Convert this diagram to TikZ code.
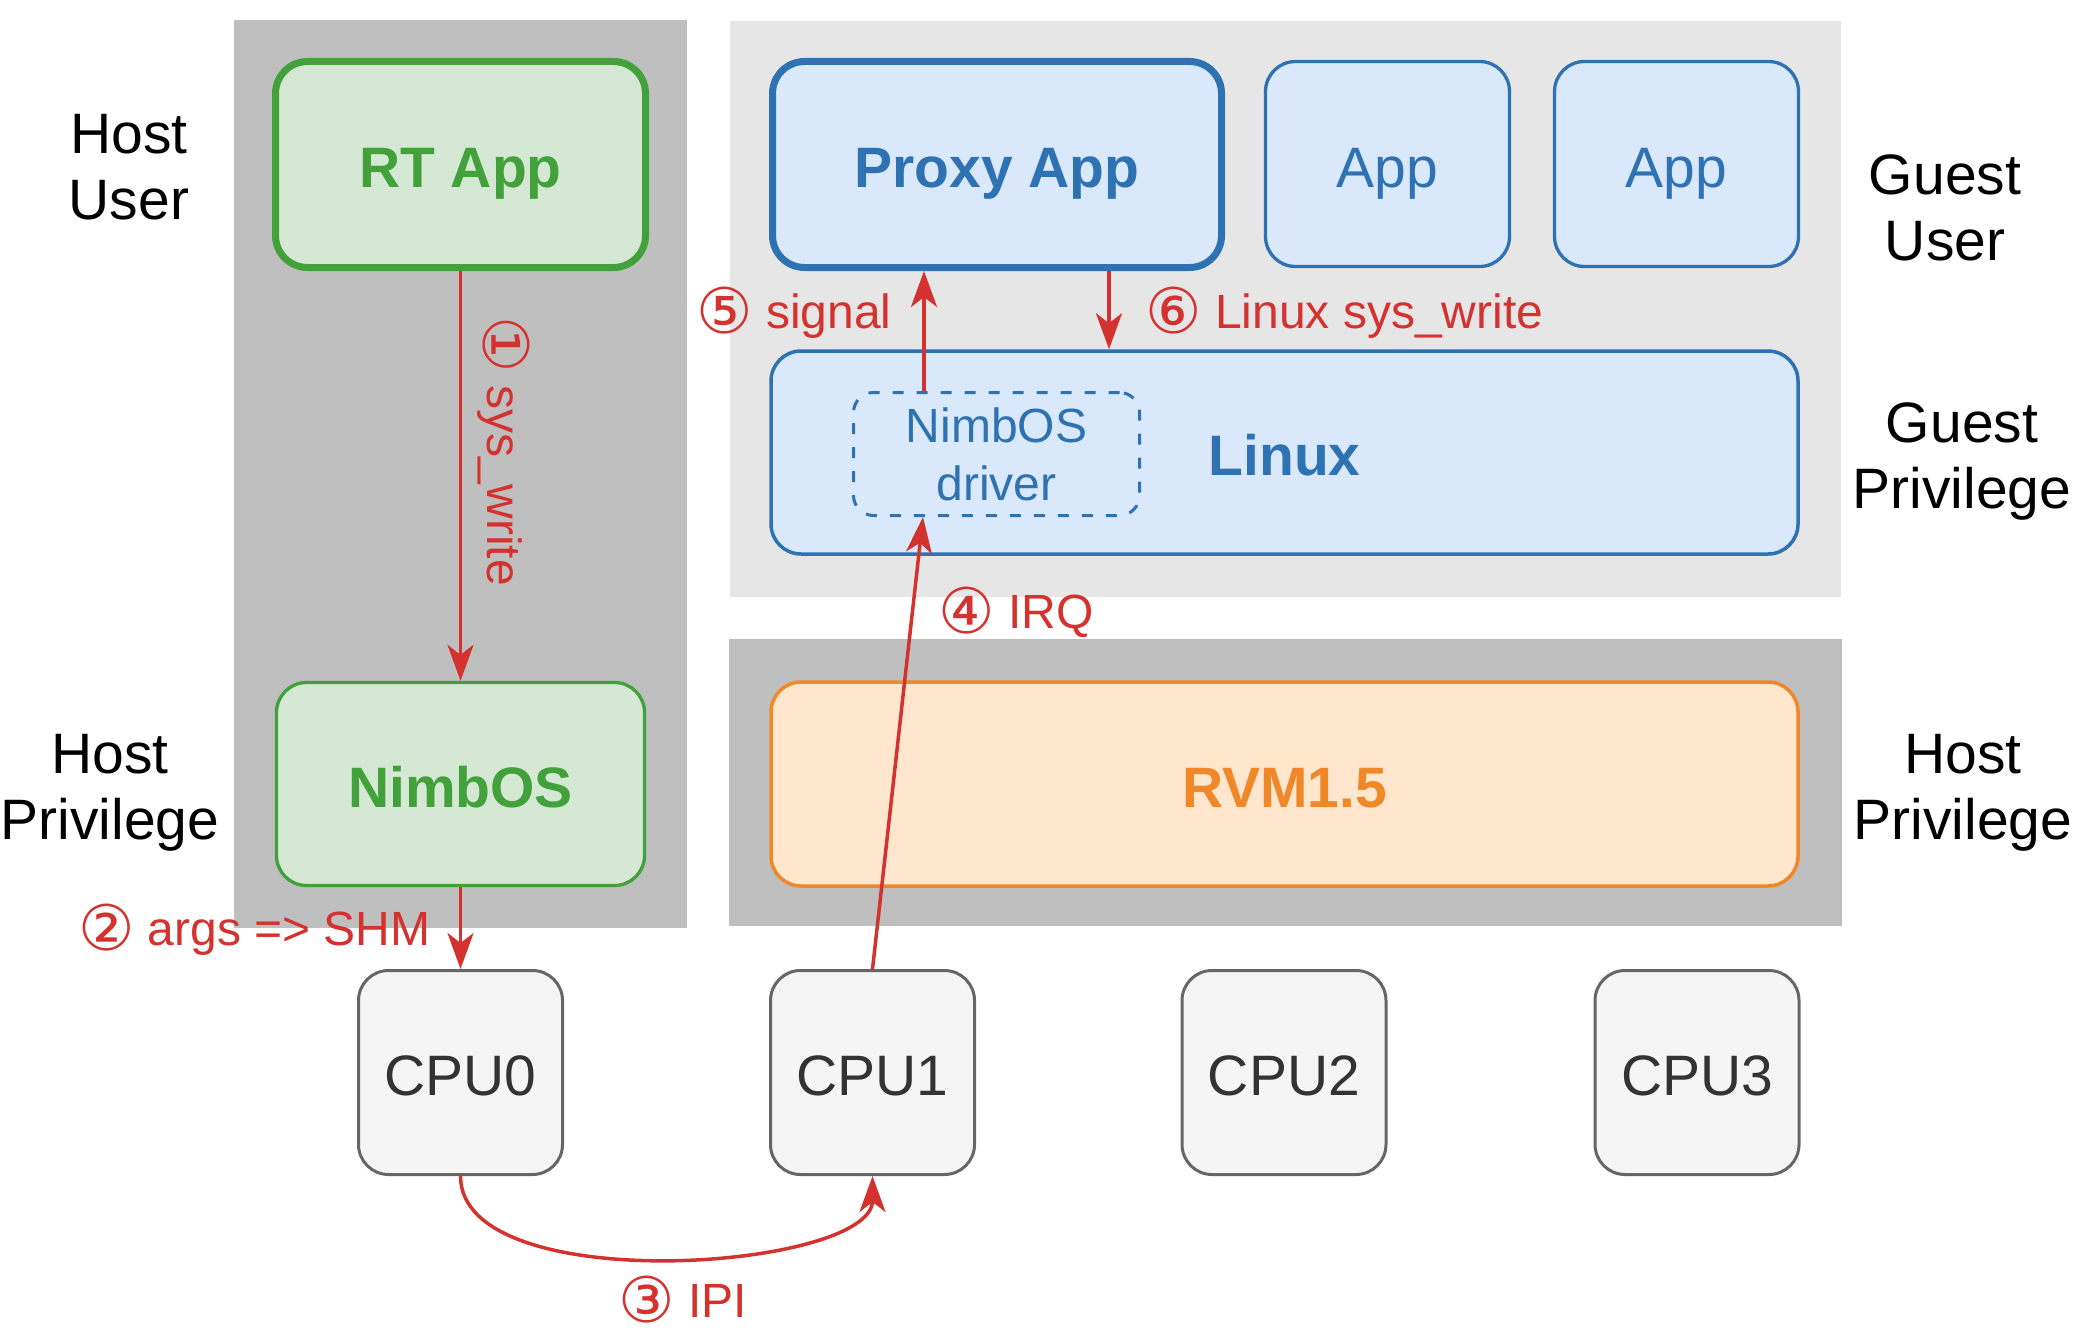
\documentclass[tikz,border=0pt]{standalone}
\usepackage{fontspec}
\setmainfont{Liberation Sans}
\newfontfamily\circf{DejaVu Sans}
\newcommand\cdig[1]{\raisebox{-2.4pt}{\circf\fontsize{31.5}{31.5}\selectfont #1}}
\usetikzlibrary{arrows.meta}
\definecolor{gpanel}{HTML}{BFBFBF}
\definecolor{lpanel}{HTML}{E6E6E6}
\definecolor{gstroke}{HTML}{42A13A}
\definecolor{gfill}{HTML}{D5E8D4}
\definecolor{bstroke}{HTML}{2F72B2}
\definecolor{bfill}{HTML}{DAE8FC}
\definecolor{ostroke}{HTML}{F0882A}
\definecolor{ofill}{HTML}{FFE6CC}
\definecolor{cfill}{HTML}{F5F5F5}
\definecolor{cstroke}{HTML}{666666}
\definecolor{ctext}{HTML}{333333}
\definecolor{redc}{HTML}{D4322F}
\begin{document}
\begin{tikzpicture}[x=0.5pt,y=-0.5pt,
  box/.style={rectangle, rounded corners=15pt, inner sep=0pt, text height=23pt, text depth=0pt},
  bigfont/.style={font=\fontsize{28.5}{33}\selectfont},
  boldfont/.style={font=\fontsize{28.5}{33}\selectfont\bfseries},
  gbox/.style={box, draw=gstroke, fill=gfill, text=gstroke, boldfont},
  bbox/.style={box, draw=bstroke, fill=bfill, text=bstroke},
  obox/.style={box, draw=ostroke, fill=ofill, text=ostroke, boldfont, line width=1.75pt},
  cpubox/.style={box, draw=cstroke, fill=cfill, text=ctext, bigfont, line width=1.5pt, minimum width=102pt, minimum height=102pt},
  lab/.style={inner sep=0pt, bigfont, align=center, text=black},
  rl/.style={inner sep=0pt, text=redc, font=\fontsize{24}{29}\selectfont, text height=17.2pt, text depth=0pt},
  arr/.style={draw=redc, line width=1.75pt, -{Stealth[length=18pt, width=13pt, inset=5pt]}}
]
\useasboundingbox (0,0) rectangle (2081,1338);
% panels
\fill[gpanel] (234,20) rectangle (687,928);
\fill[lpanel] (730,21) rectangle (1841,597);
\fill[gpanel] (729,639) rectangle (1842,926);

% host side
\node[gbox, line width=3.5pt, rounded corners=16pt, minimum width=185pt, minimum height=103pt] (rt) at (460.5,164.5) {RT App};
\node[gbox, line width=1.65pt, minimum width=184pt, minimum height=101.5pt] (nos) at (460.5,784) {NimbOS};

% guest user
\node[bbox, boldfont, line width=3.5pt, rounded corners=16pt, minimum width=224.5pt, minimum height=103pt] (proxy) at (997,164.5) {Proxy App};
\node[bbox, bigfont, line width=1.65pt, minimum width=122pt, minimum height=102.5pt] (app1) at (1387.5,164) {App};
\node[bbox, bigfont, line width=1.65pt, minimum width=122pt, minimum height=102.5pt] (app2) at (1676.5,164) {App};

% guest kernel
\node[bbox, boldfont, line width=1.75pt, minimum width=513.5pt, minimum height=101.5pt] (lin) at (1284.5,452.5) {Linux};
\node[draw=bstroke, line width=1.5pt, dash pattern=on 5.5pt off 6.5pt, rounded corners=10pt,
      minimum width=143pt, minimum height=61.5pt, inner sep=0pt, align=center, text=bstroke,
      font=\fontsize{24}{29}\selectfont] (drv) at (996.5,454) {NimbOS\\driver};

% hypervisor
\node[obox, minimum width=513.5pt, minimum height=102pt] (rvm) at (1284.5,784) {RVM1.5};

% CPUs
\node[cpubox] (cpu0) at (460.5,1072.5) {CPU0};
\node[cpubox] (cpu1) at (872.5,1072.5) {CPU1};
\node[cpubox] (cpu2) at (1284,1072.5) {CPU2};
\node[cpubox] (cpu3) at (1697,1072.5) {CPU3};

% side labels
\node[lab] (hu) at (129,167) {Host\\User};
\node[lab] (hp) at (110,793) {Host\\Privilege};
\node[lab] (gu) at (1945,207.5) {Guest\\User};
\node[lab] (gp) at (1962,461.5) {Guest\\Privilege};
\node[lab] (hp2) at (1963,793) {Host\\Privilege};

% arrows
\draw[arr] (rt.south) -- (nos.north);
\draw[arr] (nos.south) -- (cpu0.north);
\draw[arr] (cpu0.south) .. controls +(0,124) and +(0,94) .. (cpu1.south);
\draw[arr] (cpu1.north) -- ([xshift=-36.75pt]drv.south);
\draw[arr] ([xshift=-36.25pt]drv.north) -- ([xshift=-36.25pt]drv.north |- proxy.south);
\draw[arr] ([xshift=56pt]proxy.south) -- ([xshift=56pt]proxy.south |- lin.north);

% red labels
\node[rl, rotate=-90] (l1) at (505,451) {\cdig{①} sys\_write};
\node[rl, anchor=east] (l2) at (431,928.5) {\cdig{②} args => SHM};
\node[rl] (l3) at (683,1300) {\cdig{③} IPI};
\node[rl, anchor=west] (l4) at (938,611) {\cdig{④} IRQ};
\node[rl, anchor=east] (l5) at (892,311) {\cdig{⑤} signal};
\node[rl, anchor=west] (l6) at (1145,311) {\cdig{⑥} Linux sys\_write};
\end{tikzpicture}
\end{document}
